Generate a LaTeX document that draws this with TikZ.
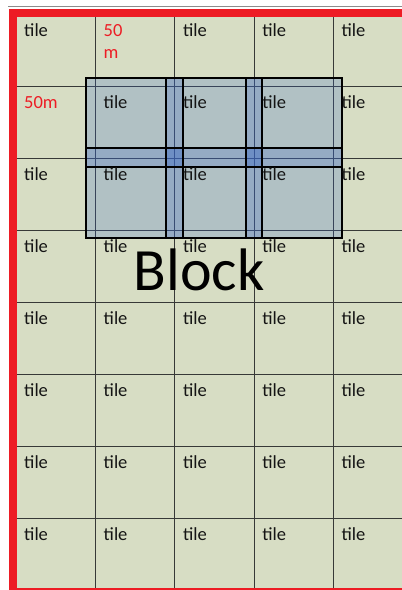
\documentclass[tikz,border=0pt]{standalone}
\usepackage{fontspec}
\setmainfont{Carlito}
\definecolor{redb}{RGB}{237,28,36}
\definecolor{bgc}{RGB}{215,221,196}
\definecolor{blockblue}{RGB}{60,105,200}
\definecolor{gridc}{RGB}{55,57,55}
\begin{document}
\begin{tikzpicture}[x=1pt,y=-1pt,
  gridline/.style={draw=gridc,line width=0.8pt},
  tiletext/.style={anchor=base west,inner sep=0pt,font=\fontsize{18.5}{20}\selectfont,text=black!92},
  redtext/.style={tiletext,text=redb},
  blockfill/.style={fill=blockblue,fill opacity=0.24},
  blockedge/.style={draw=black,line width=2.4pt}]
\useasboundingbox (0,0) rectangle (402,590);
\fill[white] (0,0) rectangle (402,590);
\fill[bgc] (17,17) rectangle (402,587.5);
% grid
\foreach \x in {95.5,174.8,254.1,333.4} \draw[gridline] (\x,17) -- (\x,587.5);
\foreach \y in {86,158,230,302,374,446,518} \draw[gridline] (17,\y) -- (402,\y);
% frame
\draw[black!45,line width=0.8pt] (8,6.5) -- (402,6.5);
\fill[redb] (9,9) rectangle (17,590);
\fill[redb] (9,9) rectangle (402,17);
\fill[redb] (9,587.5) rectangle (402,590);
% block overlay
\foreach \xa/\xb in {86/183,166/262,246/342}
  \foreach \ya/\yb in {78/167,148/238}
    \fill[blockfill] (\xa,\ya) rectangle (\xb,\yb);
\foreach \xa/\xb in {86/183,166/262,246/342}
  \foreach \ya/\yb in {78/167,148/238}
    \draw[blockedge] (\xa,\ya) rectangle (\xb,\yb);
% tile labels
\foreach \r in {0,...,7}
  \foreach \c in {0,...,4}{
    \pgfmathsetmacro{\tx}{\c==0 ? 24 : 103.5+79.3*(\c-1)}
    \pgfmathsetmacro{\ty}{36+72*\r}
    \pgfmathtruncatemacro{\skip}{(\r==0 && \c==1) || (\r==1 && \c==0) ? 1 : 0}
    \ifnum\skip=0
      \node[tiletext] (t-\r-\c) at (\tx,\ty) {tile};
    \fi
  }
\node[redtext] (fiftya) at (103.5,36) {50};
\node[redtext] (fiftyb) at (103.5,58) {m};
\node[redtext] (fiftym) at (24,108) {50m};
\node[anchor=base,inner sep=0pt,font=\fontsize{60}{62}\selectfont,text=black] (block) at (199,290) {Block};
\end{tikzpicture}
\end{document}
